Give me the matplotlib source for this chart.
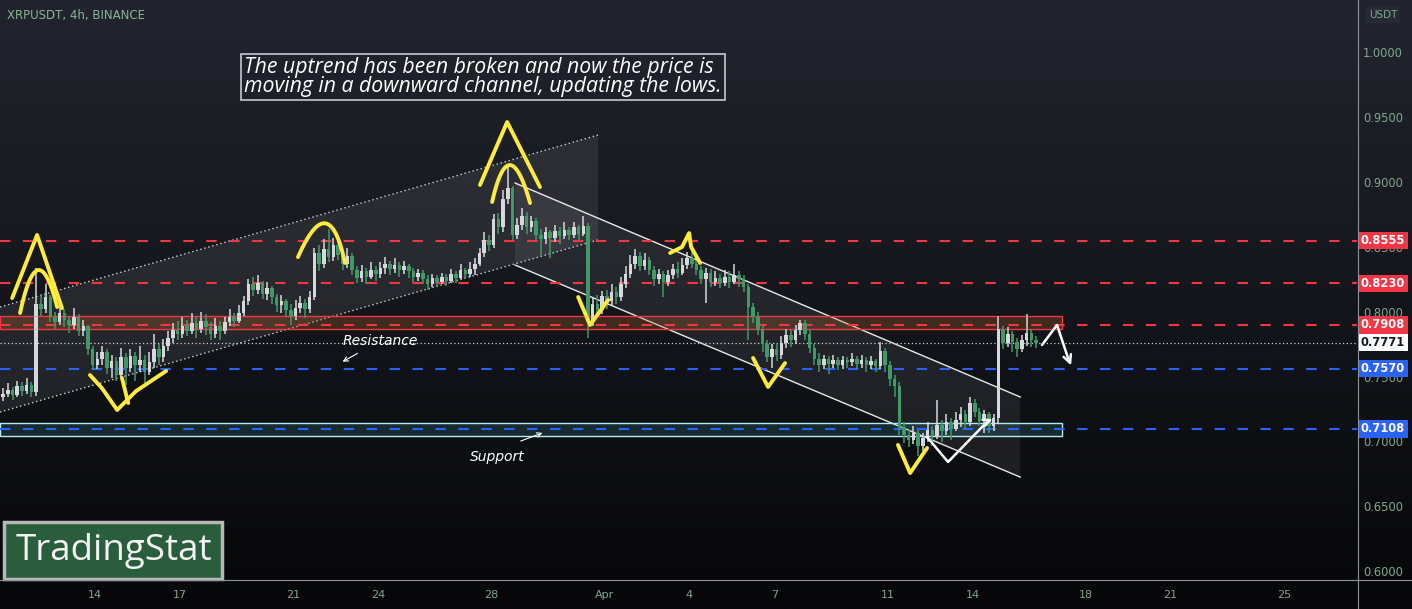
import numpy as np
import matplotlib
matplotlib.use('Agg')
import matplotlib.pyplot as plt
from matplotlib.patches import Rectangle, Polygon
from matplotlib.lines import Line2D
from matplotlib import transforms

# ---------------- data (XRPUSDT 4h candles) ----------------
first_open = 0.735
t0 = 10.75  # March day of first candle (Apr 1 = 32)
closes = [
    .738, .741, .737, .744, .740, .745, .739, .807, .803, .812,
    .797, .793, .800, .795, .791, .797, .786, .790, .772, .760,
    .765, .770, .758, .763, .752, .766, .758, .767, .760, .764,
    .755, .762, .772, .766, .775, .781, .787, .784, .790, .786,
    .792, .788, .794, .789, .784, .790, .786, .793, .797, .794,
    .800, .809, .822, .818, .823, .815, .819, .812, .806, .809,
    .802, .798, .804, .808, .803, .812, .846, .838, .849, .843,
    .852, .845, .838, .844, .833, .827, .832, .828, .833, .830,
    .835, .838, .834, .837, .833, .836, .832, .828, .831, .826,
    .822, .827, .824, .828, .825, .830, .827, .833, .830, .834,
    .838, .846, .856, .852, .872, .866, .888, .896, .860, .868,
    .875, .866, .871, .860, .857, .862, .858, .863, .859, .864,
    .860, .866, .861, .867, .793, .807, .802, .813, .809, .816,
    .812, .822, .830, .838, .844, .836, .841, .833, .826, .830,
    .824, .829, .834, .831, .837, .842, .838, .833, .826, .831,
    .824, .827, .823, .828, .824, .829, .826, .820, .805, .797,
    .787, .776, .766, .772, .768, .777, .783, .779, .787, .792,
    .784, .773, .765, .760, .765, .761, .764, .760, .764, .762,
    .765, .761, .764, .760, .763, .759, .771, .760, .749, .744,
    .712, .706, .702, .708, .698, .704, .710, .705, .714, .709,
    .716, .711, .718, .722, .716, .731, .724, .717, .722, .713,
    .719, .788, .777, .784, .778, .772, .779, .785, .779, .7771,
]
highs = [
    .742, .746, .743, .748, .747, .750, .747, .835, .815, .822,
    .814, .801, .806, .803, .798, .804, .799, .795, .791, .775,
    .770, .775, .772, .768, .766, .773, .769, .772, .770, .775,
    .768, .770, .784, .776, .780, .786, .792, .794, .797, .795,
    .800, .797, .801, .799, .793, .796, .794, .797, .803, .800,
    .806, .813, .826, .828, .829, .825, .824, .821, .815, .814,
    .811, .807, .810, .813, .811, .817, .850, .852, .857, .865,
    .858, .856, .848, .850, .846, .836, .837, .835, .839, .836,
    .839, .843, .840, .842, .839, .840, .838, .835, .834, .833,
    .829, .830, .829, .831, .830, .834, .832, .838, .835, .839,
    .842, .850, .862, .860, .876, .877, .895, .912, .898, .873,
    .881, .878, .875, .873, .865, .866, .864, .868, .866, .870,
    .866, .870, .868, .875, .869, .812, .814, .817, .818, .822,
    .820, .828, .836, .845, .849, .847, .846, .843, .836, .834,
    .832, .833, .838, .839, .842, .847, .849, .841, .836, .835,
    .834, .832, .830, .833, .832, .838, .832, .829, .822, .808,
    .801, .790, .779, .776, .777, .782, .788, .787, .791, .795,
    .795, .787, .776, .769, .768, .767, .768, .766, .767, .766,
    .769, .767, .768, .766, .767, .765, .778, .773, .763, .752,
    .747, .716, .710, .713, .710, .708, .716, .713, .733, .718,
    .722, .719, .724, .728, .725, .735, .734, .727, .725, .724,
    .722, .798, .790, .789, .786, .781, .783, .799, .788, .782,
]
lows = [
    .732, .735, .733, .735, .736, .738, .735, .736, .798, .800,
    .793, .788, .791, .789, .785, .788, .782, .782, .768, .756,
    .757, .760, .753, .750, .748, .750, .745, .755, .748, .755,
    .746, .752, .758, .760, .762, .771, .777, .779, .781, .782,
    .784, .781, .785, .783, .779, .781, .779, .784, .790, .789,
    .792, .798, .806, .813, .815, .811, .810, .807, .801, .800,
    .797, .791, .795, .800, .796, .800, .810, .832, .835, .839,
    .840, .841, .833, .835, .829, .823, .824, .822, .826, .825,
    .827, .830, .829, .831, .828, .830, .827, .824, .825, .822,
    .818, .820, .821, .822, .821, .823, .823, .826, .826, .828,
    .829, .836, .843, .848, .850, .861, .862, .884, .856, .857,
    .864, .861, .862, .856, .845, .853, .842, .855, .853, .857,
    .856, .858, .856, .859, .781, .790, .797, .799, .803, .806,
    .807, .809, .819, .827, .834, .832, .833, .829, .821, .822,
    .812, .821, .826, .827, .829, .834, .835, .829, .822, .808,
    .820, .821, .819, .821, .819, .822, .820, .816, .779, .792,
    .783, .770, .762, .758, .763, .765, .773, .774, .776, .783,
    .779, .769, .760, .755, .757, .753, .758, .756, .757, .758,
    .759, .757, .758, .755, .757, .755, .757, .755, .744, .735,
    .706, .700, .697, .699, .690, .694, .701, .698, .703, .701,
    .706, .702, .709, .712, .711, .713, .720, .713, .708, .708,
    .709, .715, .772, .774, .770, .766, .770, .775, .774, .773,
]
red_levels = [0.8555, 0.8230, 0.7908]
blue_levels = [0.7570, 0.7108]
last_price = 0.7771
price_ticks = [1.0, 0.95, 0.90, 0.85, 0.80, 0.75, 0.70, 0.65, 0.60]
date_ticks = [14, 17, 21, 24, 28, 32, 35, 38, 42, 45, 49, 52, 56]
date_labels = ['14', '17', '21', '24', '28', 'Apr', '4', '7', '11', '14', '18', '21', '25']
resistance_zone = (0.7877, 0.7977)
support_zone = (0.7054, 0.7154)

# ---------------- style ----------------
UP = '#d6d8dc'
DOWN = '#3f9a67'
RED = '#f23645'
BLUE = '#2962ff'
YEL = '#ffeb3b'
TICK = '#7fa68c'

W, H = 1412, 609
fig = plt.figure(figsize=(W / 100, H / 100), dpi=100)

bg = fig.add_axes([0, 0, 1, 1], zorder=-10)
g = np.linspace(0, 1, 300)[:, None, None]
top = np.array([34, 37, 46]) / 255
bot = np.array([7, 7, 9]) / 255
img = top * (1 - g) + bot * g
img = np.repeat(img, 2, axis=1)
bg.imshow(img, aspect='auto', extent=[0, 1, 0, 1])
bg.axis('off')

ax = fig.add_axes([0, 29 / H, 1357 / W, 580 / H])
ax.set_facecolor('none')
X0, X1 = 10.64, 58.59
ax.set_xlim(X0, X1)
ax.set_ylim(0.5946, 1.0408)
ax.axis('off')

# ---------------- channels ----------------
up_ch = [(10.64, 0.8046), (31.77, 0.9369), (31.77, 0.8562), (10.64, 0.7238)]
ax.add_patch(Polygon(up_ch, closed=True, fc='white', alpha=0.08, lw=0, zorder=1))
ax.plot([10.64, 31.77], [0.8046, 0.9369], color='#d0d0d0', lw=1, ls=(0, (1, 2)), zorder=2)
ax.plot([10.64, 31.77], [0.7238, 0.8562], color='#d0d0d0', lw=1, ls=(0, (1, 2)), zorder=2)

dn_ch = [(28.84, 0.900), (46.69, 0.7354), (46.69, 0.6738), (28.84, 0.8369)]
ax.add_patch(Polygon(dn_ch, closed=True, fc='white', alpha=0.07, lw=0, zorder=1))
ax.plot([28.84, 46.69], [0.900, 0.7354], color='#e8e8e8', lw=1, zorder=2)
ax.plot([28.84, 46.69], [0.8369, 0.6738], color='#e8e8e8', lw=1, zorder=2)

# ---------------- zones ----------------
ZX1 = 48.17
ax.add_patch(Rectangle((X0, resistance_zone[0]), ZX1 - X0, resistance_zone[1] - resistance_zone[0],
                       fc='#b5652a', alpha=0.28, lw=0, zorder=2))
ax.add_patch(Rectangle((X0, resistance_zone[0]), ZX1 - X0, resistance_zone[1] - resistance_zone[0],
                       fc='none', ec=RED, lw=1, zorder=2))
ax.add_patch(Rectangle((X0, support_zone[0]), ZX1 - X0, support_zone[1] - support_zone[0],
                       fc='#4dd0e1', alpha=0.14, lw=0, zorder=2))
ax.add_patch(Rectangle((X0, support_zone[0]), ZX1 - X0, support_zone[1] - support_zone[0],
                       fc='none', ec='#b2ebf2', lw=1, zorder=2))

# ---------------- level lines ----------------
for lv in red_levels:
    ax.axhline(lv, color=RED, lw=1.5, ls=(0, (5, 6)), zorder=3)
for lv in blue_levels:
    ax.axhline(lv, color=BLUE, lw=1.5, ls=(0, (5, 6)), zorder=3)
ax.axhline(last_price, color='#cfd2d8', lw=0.9, ls=(0, (1, 2)), zorder=3)

# ---------------- candles ----------------
c = np.array(closes)
o = np.concatenate([[first_open], c[:-1]])
hi = np.maximum(np.array(highs), np.maximum(o, c))
lo = np.minimum(np.array(lows), np.minimum(o, c))
t = t0 + np.arange(len(c)) / 6.0
cols = np.where(c >= o, UP, DOWN)
ax.vlines(t, lo, hi, colors=cols, lw=1.1, zorder=5)
ax.bar(t, np.maximum(np.abs(c - o), 0.0012), bottom=np.minimum(o, c), width=0.125,
       color=cols, lw=0, zorder=6)

# ---------------- hand drawings ----------------
def bez(p0, p1, p2, n=40):
    p0, p1, p2 = map(np.array, (p0, p1, p2))
    ctrl = 2 * p1 - (p0 + p2) / 2
    s = np.linspace(0, 1, n)[:, None]
    pts = (1 - s) ** 2 * p0 + 2 * (1 - s) * s * ctrl + s ** 2 * p2
    return pts[:, 0], pts[:, 1]

ykw = dict(color=YEL, lw=2.8, solid_capstyle='round', solid_joinstyle='round', zorder=8)
# peak 1
ax.plot([11.07, 11.95, 12.83], [0.8115, 0.860, 0.8038], **ykw)
ax.plot(*bez((11.35, 0.800), (11.99, 0.833), (12.66, 0.8046)), **ykw)
# low 1
ax.plot([13.82, 14.25, 14.78, 15.45, 16.51], [0.7523, 0.7420, 0.7254, 0.7400, 0.7554], **ykw)
ax.plot([14.95, 15.17], [0.7500, 0.7308], **ykw)
# arc 2
ax.plot(*bez((21.17, 0.843), (22.13, 0.869), (22.83, 0.8385)), **ykw)
# peak 3
ax.plot([27.60, 28.56, 29.72], [0.8985, 0.9469, 0.8969], **ykw)
ax.plot(*bez((28.03, 0.8854), (28.66, 0.9138), (29.37, 0.8846)), **ykw)
# V after drop
ax.plot([31.07, 31.49, 32.13], [0.8123, 0.7908, 0.810], **ykw)
# peak 4
ax.plot([34.32, 34.74, 34.99, 35.06, 35.38], [0.8462, 0.8508, 0.8615, 0.8508, 0.8385], **ykw)
# V 5
ax.plot([37.25, 37.78, 38.38], [0.7654, 0.7431, 0.7615], **ykw)
# V 6
ax.plot([42.37, 42.80, 43.40], [0.6985, 0.6769, 0.6962], **ykw)

wkw = dict(color='white', lw=1.8, solid_capstyle='round', solid_joinstyle='round', zorder=8)
ax.plot([43.40, 44.14, 45.55], [0.7046, 0.6854, 0.7170], **wkw)
ax.annotate('', xy=(45.80, 0.7192), xytext=(45.50, 0.7165),
            arrowprops=dict(arrowstyle='->', color='white', lw=1.8, mutation_scale=12), zorder=8)
ax.plot([47.46, 47.99, 48.40], [0.7754, 0.7908, 0.7640], **wkw)
ax.annotate('', xy=(48.52, 0.7577), xytext=(48.40, 0.7645),
            arrowprops=dict(arrowstyle='->', color='white', lw=1.8, mutation_scale=14), zorder=8)

# labels
ax.text(22.76, 0.7785, 'Resistance', color='white', fontsize=10, style='italic',
        va='center', ha='left', zorder=9)
ax.annotate('', xy=(22.66, 0.7615), xytext=(23.36, 0.7700),
            arrowprops=dict(arrowstyle='->', color='white', lw=0.8, mutation_scale=8), zorder=9)
ax.text(27.25, 0.6892, 'Support', color='white', fontsize=10, style='italic',
        va='center', ha='left', zorder=9)
ax.annotate('', xy=(29.90, 0.7085), xytext=(28.95, 0.7008),
            arrowprops=dict(arrowstyle='->', color='white', lw=0.8, mutation_scale=8), zorder=9)

# ---------------- price axis ----------------
trans = transforms.blended_transform_factory(fig.transFigure, ax.transData)
for v in price_ticks:
    ax.text(1383 / W, v, f'{v:.4f}', transform=trans, ha='center', va='center',
            color=TICK, fontsize=8.3, clip_on=False, zorder=10)

def price_tag(v, fc, tc):
    ax.add_patch(Rectangle((1358 / W, v - 0.0066), 50 / W, 0.0132, transform=trans,
                           fc=fc, ec='none', clip_on=False, zorder=11))
    ax.text(1383 / W, v, f'{v:.4f}', transform=trans, ha='center', va='center',
            color=tc, fontsize=8.3, fontweight='bold', clip_on=False, zorder=12)

for lv in red_levels:
    price_tag(lv, RED, 'white')
price_tag(last_price, 'white', '#131722')
for lv in blue_levels:
    price_tag(lv, BLUE, 'white')

fig.text(1383 / W, 1 - 15 / H, 'USDT', ha='center', va='center', color=TICK, fontsize=7.5,
         bbox=dict(boxstyle='square,pad=0.3', fc='#262a33', ec='none'))

# separators
fig.add_artist(Line2D([1357.5 / W] * 2, [0, 1], transform=fig.transFigure, color='#8f929a', lw=0.8))
fig.add_artist(Line2D([0, 1], [29 / H] * 2, transform=fig.transFigure, color='#8f929a', lw=0.8))

# date labels
dtrans = transforms.blended_transform_factory(ax.transData, fig.transFigure)
for d, lab in zip(date_ticks, date_labels):
    ax.text(d, 1 - 595 / H, lab, transform=dtrans, ha='center', va='center', color=TICK,
            fontsize=8, clip_on=False)

# ---------------- texts ----------------
fig.text(7 / W, 1 - 16 / H, 'XRPUSDT, 4h, BINANCE', color='#86b597', fontsize=8.5,
         va='center', ha='left', family=['Liberation Sans Narrow', 'DejaVu Sans'])

fig.text(244 / W, 1 - 77 / H,
         'The uptrend has been broken and now the price is\nmoving in a downward channel, updating the lows.',
         color='white', fontsize=15.3, style='italic', va='center', ha='left', linespacing=0.86,
         family=['Open Sans', 'DejaVu Sans'],
         bbox=dict(boxstyle='square,pad=0.15', fc='none', ec='#b9bcc2', lw=1.3))

# logo
fig.add_artist(Rectangle((4 / W, 30 / H), 218 / W, 57 / H, transform=fig.transFigure,
                         fc='#2a5d3b', ec='#b4b9b8', lw=2.5))
fig.text(114 / W, 1 - 551 / H, 'TradingStat', color='#f2f2f2', fontsize=26.5,
         ha='center', va='center', family=['Open Sans', 'DejaVu Sans'])

fig.savefig('out.png', dpi=100)
